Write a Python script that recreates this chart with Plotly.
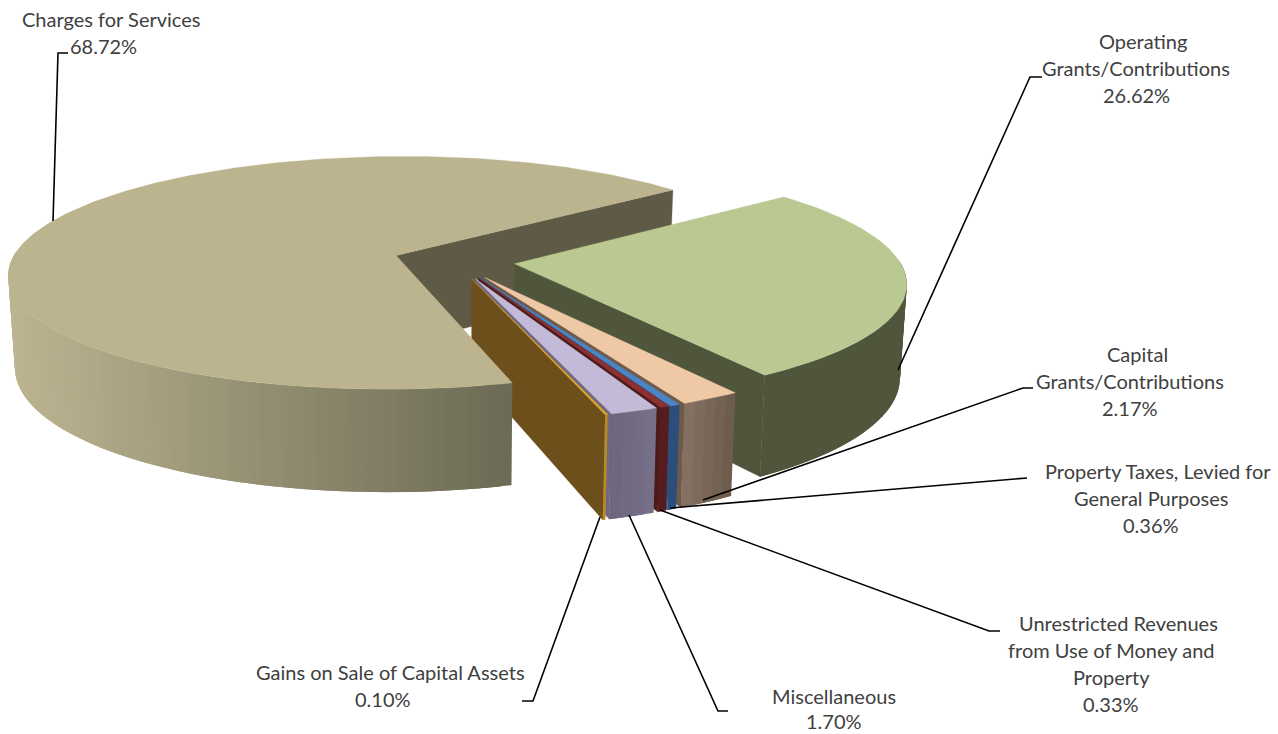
import math
import plotly.graph_objects as go

# Revenue shares, in drawing order clockwise from the first slice
categories = ["Charges for Services", "Operating Grants/Contributions",
              "Capital Grants/Contributions", "Property Taxes, Levied for General Purposes",
              "Unrestricted Revenues from Use of Money and Property",
              "Miscellaneous", "Gains on Sale of Capital Assets"]
values = [68.72, 26.62, 2.17, 0.36, 0.33, 1.70, 0.10]

top_colors = ["#BCB48E", "#B9C991", "#EFC8A5", "#4A86C6", "#8E2F30", "#C3BAD8", "#E3A526"]
wall_left = ["#BDB491", "#50563B", "#877262", "#2B4E7A", "#561C1E", "#6D667B", "#B98A1F"]
wall_right = ["#6B6A54", "#50563B", "#6B5A4C", "#2B4E7A", "#561C1E", "#77708A", "#B98A1F"]
cut_colors = ["#5F5A45", "#50563B", "#6E5A4A", "#2B4E7A", "#4E1A18", "#6F6880", "#6D4F1B"]

# Label text lines and their centres; the percentage line is appended from the values
label_lines = [["Charges for Services"], ["Operating", "Grants/Contributions"],
               ["Capital", "Grants/Contributions"], ["Property Taxes, Levied for", "General Purposes"],
               ["Unrestricted Revenues", "from Use of Money and", "Property"],
               ["Miscellaneous"], ["Gains on Sale of Capital Assets"]]
label_x = [[111, 103], [1143, 1136, 1136], [1137, 1130, 1130], [1158, 1151, 1151],
           [1118, 1111, 1111, 1111], [834, 834], [390, 383]]
label_y = [19, 41, 354, 471, 623, 696, 672]
line_steps = [27, 27, 27, 27, 27, 25, 27]

# Leader lines: slice anchor, elbow, end of the stub
leaders = [[(53, 221), (58, 53), (68, 53)],
           [(898, 370), (1030, 77), (1042, 77)],
           [(703, 500), (1023, 388), (1033, 388)],
           [(670, 508), (1013, 479), (1027, 478)],
           [(660, 510), (989, 631), (1000, 631)],
           [(629, 515), (718, 711), (728, 711)],
           [(600, 517), (533, 701), (522, 701)]]

# Pie projection settings
CX, CY = 454.0, 261.0
RADIUS, EXPLODE = 385.0, 61.0
PERSPECTIVE, TILT = 0.149, 0.30
DEPTH, DEPTH_POWER, TAPER = 91.0, 0.8, 0.985
START_ANGLE = 51.0
WALL_STEP = 1.5


def project(x, y, low=False):
    w = 1 + PERSPECTIVE * y / RADIUS
    sx = CX + x / w
    sy = CY - TILT * y / w
    if low:
        sy += DEPTH * w ** -DEPTH_POWER
        sx = CX + (sx - CX) * TAPER
    return sx, sy


def mix(c1, c2, t):
    a = [int(c1[i:i + 2], 16) for i in (1, 3, 5)]
    b = [int(c2[i:i + 2], 16) for i in (1, 3, 5)]
    return "#%02X%02X%02X" % tuple(round(p + (q - p) * t) for p, q in zip(a, b))


def polygon(points, color, name, line=0.0):
    return go.Scatter(x=[p[0] for p in points] + [points[0][0]],
                      y=[p[1] for p in points] + [points[0][1]],
                      mode="lines", fill="toself", fillcolor=color,
                      line=dict(color=color, width=line), name=name,
                      hoverinfo="name", showlegend=False)


def slice_parts(index, a0, a1):
    """Return (end-cut wall, outer wall strips, top face) traces for one slice."""
    mid = math.radians((a0 + a1) / 2)
    ox, oy = EXPLODE * math.sin(mid), EXPLODE * math.cos(mid)

    def rim(deg):
        r = math.radians(deg)
        return ox + RADIUS * math.sin(r), oy + RADIUS * math.cos(r)

    name = categories[index]
    steps = max(2, int(a1 - a0))
    angles = [a0 + (a1 - a0) * i / steps for i in range(steps + 1)]

    top = [project(ox, oy)] + [project(*rim(a)) for a in angles]
    top_trace = polygon(top, top_colors[index], name, line=0.3)

    end = rim(a1)
    cut = [project(ox, oy), project(*end), project(*end, low=True), project(ox, oy, low=True)]
    cut_trace = polygon(cut, cut_colors[index], name, line=0.3)

    # The outer wall only shows on the half of the rim facing the viewer.
    # Each band runs under the start of the next one so no seams open up.
    strips = []
    w0 = max(a0, 88.0)
    w1 = min(a1, 272.0)
    if w1 > w0:
        count = max(1, round((w1 - w0) / WALL_STEP))
        marks = [w0 + (w1 - w0) * i / count for i in range(count + 1)]
        xs = [project(*rim(a))[0] for a in marks]
        lo, hi = min(xs), max(xs)
        for i in range(count):
            p, q = marks[i], marks[min(i + 2, count)]
            sx = project(*rim((marks[i] + marks[i + 1]) / 2))[0]
            t = (sx - lo) / (hi - lo) if hi > lo else 0
            color = mix(wall_left[index], wall_right[index], t)
            sub = [p + (q - p) * j / 6 for j in range(7)]
            outline = [project(*rim(a)) for a in sub] + [project(*rim(a), low=True) for a in reversed(sub)]
            strips.append(polygon(outline, color, name))
    return cut_trace, strips, top_trace


# Slice spans: the first slice ends at START_ANGLE, the others follow clockwise from it
total = sum(values)
spans = [0] * len(values)
spans[0] = (START_ANGLE - values[0] / total * 360 + 360, START_ANGLE + 360)
angle = START_ANGLE
for i in range(1, len(values)):
    sweep = values[i] / total * 360
    spans[i] = (angle, angle + sweep)
    angle += sweep

fig = go.Figure()
parts = [slice_parts(i, *spans[i]) for i in range(len(values))]

# Painter's order: the far cut wall of the large slice, then the slices in front of it,
# and finally the large slice's own rim and top, which overlap the small wedges
fig.add_trace(parts[0][0])
for i in range(1, len(values)):
    cut, strips, top = parts[i]
    fig.add_trace(cut)
    for s in strips:
        fig.add_trace(s)
    fig.add_trace(top)
for s in parts[0][1]:
    fig.add_trace(s)
fig.add_trace(parts[0][2])

# Leader lines
for path in leaders:
    fig.add_trace(go.Scatter(x=[p[0] for p in path], y=[p[1] for p in path], mode="lines",
                             line=dict(color="#000000", width=1.6),
                             hoverinfo="skip", showlegend=False))

# Labels, one annotation per line for the tighter line pitch
for lines, xs, y, step, v in zip(label_lines, label_x, label_y, line_steps, values):
    for k, (text, x) in enumerate(zip(lines + [f"{v:.2f}%"], xs)):
        fig.add_annotation(x=x, y=y + k * step, text=text, showarrow=False,
                           xanchor="center", yanchor="middle",
                           font=dict(family="Lato", size=20, color="#404040"))

fig.update_layout(width=1278, height=734, margin=dict(l=0, r=0, t=0, b=0),
                  paper_bgcolor="white", plot_bgcolor="white", showlegend=False,
                  xaxis=dict(range=[0, 1278], visible=False, fixedrange=True),
                  yaxis=dict(range=[734, 0], visible=False, fixedrange=True))

fig.write_html("out.html")
